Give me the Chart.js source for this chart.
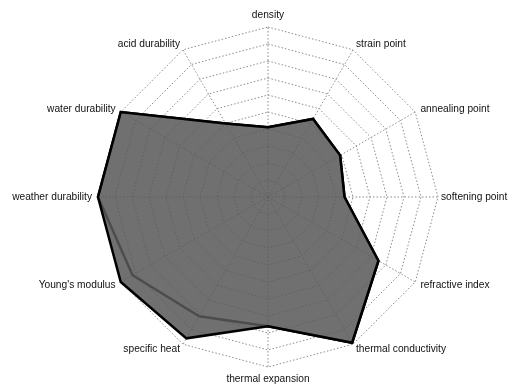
<!DOCTYPE html>
<html>
<head>
<meta charset="utf-8">
<script src="https://cdn.jsdelivr.net/npm/chart.js@4/dist/chart.umd.min.js"></script>
<style>
  html, body { margin: 0; padding: 0; background: #fff; }
  #wrap { width: 508px; height: 391px; }
</style>
</head>
<body>
<div id="wrap"><canvas id="c" width="508" height="391"></canvas></div>
<script>
// Property axes, clockwise from the top
const categories = [
  'density', 'strain point', 'annealing point', 'softening point',
  'refractive index', 'thermal conductivity', 'thermal expansion',
  'specific heat', "Young's modulus", 'weather durability',
  'water durability', 'acid durability'
];

// Relative scores on a 0-10 scale
const glassA = [4.1, 5.3, 4.9, 4.5, 7.5, 9.9, 7.6, 9.6, 10, 10, 10, 5.0];
const glassB = [4.1, 5.3, 4.9, 4.5, 7.5, 9.9, 7.6, 8.1, 9.2, 10, 10, 5.0];

const scaleMin = 0;
const scaleMax = 10;
const scaleStep = 1;

// Fixed web geometry: centre and outer radius of the radar in CSS pixels
const webCenterX = 268;
const webCenterY = 197;
const webRadius = 170;

new Chart(document.getElementById('c'), {
  type: 'radar',
  data: {
    labels: categories,
    datasets: [
      {
        label: 'glass A',
        data: glassA,
        backgroundColor: 'rgba(88,88,88,0.86)',
        borderColor: '#000',
        borderWidth: 2.5,
        fill: true,
        pointRadius: 0
      },
      {
        label: 'glass B',
        data: glassB,
        backgroundColor: 'rgba(0,0,0,0)',
        borderColor: '#000',
        borderWidth: 2.5,
        fill: false,
        pointRadius: 0
      }
    ]
  },
  options: {
    responsive: false,
    animation: false,
    plugins: {
      legend: { display: false },
      tooltip: { enabled: false }
    },
    elements: { line: { tension: 0 } },
    scales: {
      r: {
        min: scaleMin,
        max: scaleMax,
        // pin the web to a fixed centre/radius; point labels are laid out from it
        beforeFit(scale) {
          scale.setCenterPoint = function () {
            this.xCenter = webCenterX;
            this.yCenter = webCenterY;
            this.drawingArea = webRadius;
          };
        },
        // centre the diagonal labels vertically on their anchor point
        afterFit(scale) {
          const items = scale._pointLabelItems || [];
          const n = items.length;
          items.forEach((it, i) => {
            const deg = Math.round(i * 360 / n) % 360;
            if (deg % 90 === 0) return;
            const h = it.bottom - it.top;
            const shift = (deg < 90 || deg > 270) ? h / 2 : -h / 2;
            it.y += shift;
            it.top += shift;
            it.bottom += shift;
          });
        },
        ticks: { display: false, stepSize: scaleStep },
        grid: {
          color: '#8a8a8a',
          lineWidth: 1
        },
        border: { dash: [1.5, 2] },
        angleLines: {
          color: '#8a8a8a',
          lineWidth: 1,
          borderDash: [1.5, 2]
        },
        pointLabels: {
          color: '#111',
          // the right-hand label sits close to the edge of the canvas
          padding: (ctx) => (ctx.index === 3 ? 3 : 6),
          font: { family: 'Liberation Sans, Arial, sans-serif', size: 10.2 }
        }
      }
    }
  }
});
</script>
</body>
</html>
